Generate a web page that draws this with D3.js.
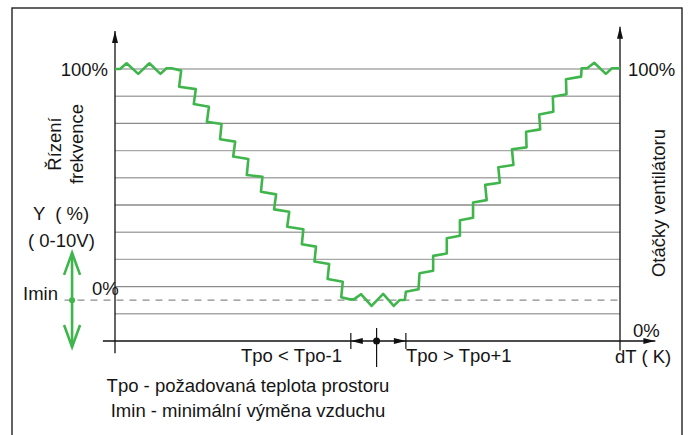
<!DOCTYPE html>
<html>
<head>
<meta charset="utf-8">
<script src="https://cdn.jsdelivr.net/npm/d3@7"></script>
<style>
  body { margin: 0; background: #fff; }
  text { font-family: "Liberation Sans", Arial, sans-serif; font-size: 18.5px; fill: #151515; }
</style>
</head>
<body>
<div id="chart"></div>
<script>
// grid levels in % of output
const gridLevels = [10, 20, 30, 40, 50, 60, 70, 80, 90, 100]
const iminLevel = 15
// fan curve, [dT position 0-100, output %]
const fanCurve = [
  [0, 100], [1.0, 100], [2.3, 102.1], [4.6, 98.2], [6.8, 102.1], [9.0, 98.2], [10.2, 100.3], [11.2, 100.3],
  [13.1, 99.4], [12.7, 93.5], [16.0, 92.6], [15.6, 87.1], [18.6, 86.1], [18.2, 80.6], [21.1, 79.8],
  [20.8, 74.2], [23.8, 73.3], [23.4, 67.8], [26.4, 66.9], [26.1, 61.0], [29.2, 60.4], [28.9, 54.9],
  [31.9, 53.9], [31.5, 48.4], [34.5, 47.5], [34.1, 42.0], [37.3, 41.1], [37.0, 35.6], [39.8, 34.7],
  [39.5, 29.2], [42.4, 28.3], [42.1, 22.8], [45.1, 21.8], [44.8, 16.1], [46.5, 15.3], [47.3, 15.3],
  [48.7, 17.2], [50.8, 12.9], [53.1, 17.3], [55.2, 12.9], [56.4, 15.1], [57.4, 15.1],
  [57.6, 18.1], [60.1, 19.0], [60.3, 24.9], [63.0, 25.8], [63.0, 31.3], [65.7, 32.2], [65.7, 37.8],
  [68.3, 38.7], [68.3, 44.4], [70.9, 45.3], [70.9, 50.9], [73.6, 51.8], [73.3, 57.4], [76.2, 58.2],
  [75.9, 63.9], [78.9, 64.7], [78.6, 70.5], [81.5, 71.2], [81.4, 76.9], [84.2, 77.8], [84.0, 83.3],
  [86.8, 84.3], [86.7, 89.8], [89.4, 90.7], [89.3, 96.2], [92.3, 97.2], [92.4, 100.3], [93.5, 100.3],
  [94.9, 102.3], [97.2, 98.2], [98.4, 100.3], [100, 100.3]
]
// setpoint band on the dT axis
const setpoint = 51.8
const band = [46.7, 57.6]

const leftTitle = ['Řízení', 'frekvence']
const rightTitle = 'Otáčky ventilátoru'
const yUnit = ['Y  ( %)', '( 0-10V)']
const bandLabels = ['Tpo < Tpo-1', 'Tpo > Tpo+1']
const notes = ['Tpo - požadovaná teplota prostoru', 'Imin - minimální výměna vzduchu']

const width = 689, height = 435
const green = '#3fb64b'

const svg = d3.select('#chart').append('svg')
  .attr('width', width)
  .attr('height', height)

const x = d3.scaleLinear().domain([0, 100]).range([115, 620])
const y = d3.scaleLinear().domain([0, 100]).range([341, 69])

const defs = svg.append('defs')
defs.append('marker')
  .attr('id', 'arr')
  .attr('viewBox', '0 0 12 6')
  .attr('refX', 12).attr('refY', 3)
  .attr('markerWidth', 12).attr('markerHeight', 6)
  .attr('markerUnits', 'userSpaceOnUse')
  .attr('orient', 'auto')
  .append('path').attr('d', 'M0,0 L12,3 L0,6 Z').attr('fill', '#111')

// frame
svg.append('rect')
  .attr('x', 12).attr('y', 8)
  .attr('width', 670).attr('height', 460)
  .attr('fill', 'none').attr('stroke', '#222').attr('stroke-width', 1.4)

// grid
svg.selectAll('.grid')
  .data(gridLevels)
  .enter().append('line')
  .attr('class', 'grid')
  .attr('x1', x(0)).attr('x2', x(100))
  .attr('y1', d => y(d)).attr('y2', d => y(d))
  .attr('stroke', (d, i) => i % 3 === 1 ? '#8a8a8a' : '#a8a8a8')
  .attr('stroke-width', 1.4)

// Imin dashed
svg.append('line')
  .attr('x1', x(-10)).attr('x2', x(99.5))
  .attr('y1', y(iminLevel)).attr('y2', y(iminLevel))
  .attr('stroke', '#8c8c8c').attr('stroke-width', 1.3)
  .attr('stroke-dasharray', '7,6')

// axes
svg.append('line')
  .attr('x1', x(0)).attr('x2', x(0))
  .attr('y1', y(-4.5)).attr('y2', y(114))
  .attr('stroke', '#111').attr('stroke-width', 1.3)
  .attr('marker-end', 'url(#arr)')
svg.append('line')
  .attr('x1', x(100)).attr('x2', x(100))
  .attr('y1', y(-3.5)).attr('y2', y(115.5))
  .attr('stroke', '#111').attr('stroke-width', 1.3)
  .attr('marker-end', 'url(#arr)')
svg.append('line')
  .attr('x1', x(-2.4)).attr('x2', x(107))
  .attr('y1', y(0)).attr('y2', y(0))
  .attr('stroke', '#111').attr('stroke-width', 1.3)
  .attr('marker-end', 'url(#arr)')

// setpoint marker
svg.append('line')
  .attr('x1', x(setpoint)).attr('x2', x(setpoint))
  .attr('y1', y(0) - 13).attr('y2', y(0) + 26)
  .attr('stroke', '#111').attr('stroke-width', 1.2)
svg.append('circle')
  .attr('cx', x(setpoint)).attr('cy', y(0)).attr('r', 3.5).attr('fill', '#111')
svg.selectAll('.bandtick')
  .data(band)
  .enter().append('line')
  .attr('x1', d => x(d)).attr('x2', d => x(d))
  .attr('y1', y(0) - 8).attr('y2', y(0) + 8)
  .attr('stroke', '#111').attr('stroke-width', 1.2)
svg.selectAll('.bandarrow')
  .data(band)
  .enter().append('path')
  .attr('d', d => {
    const tip = x(d), dir = d < setpoint ? 1 : -1
    return `M${tip},${y(0)} L${tip + dir * 12},${y(0) - 3} L${tip + dir * 12},${y(0) + 3} Z`
  })
  .attr('fill', '#111')

// curve
svg.append('path')
  .datum(fanCurve)
  .attr('d', d3.line().x(d => x(d[0])).y(d => y(d[1])))
  .attr('fill', 'none')
  .attr('stroke', green)
  .attr('stroke-width', 2.6)
  .attr('stroke-linejoin', 'round')

// green double arrow
const ax = x(-8.5), aTop = y(32.4), aBot = y(-2.2)
svg.append('line')
  .attr('x1', ax).attr('x2', ax).attr('y1', aTop).attr('y2', aBot)
  .attr('stroke', green).attr('stroke-width', 2.6)
svg.append('path')
  .attr('d', `M${ax - 8},${aTop + 22} L${ax},${aTop} L${ax + 8},${aTop + 22}`)
  .attr('fill', 'none').attr('stroke', green).attr('stroke-width', 2.6)
svg.append('path')
  .attr('d', `M${ax - 8},${aBot - 22} L${ax},${aBot} L${ax + 8},${aBot - 22}`)
  .attr('fill', 'none').attr('stroke', green).attr('stroke-width', 2.6)
svg.append('circle')
  .attr('cx', ax).attr('cy', y(iminLevel)).attr('r', 3).attr('fill', green)

// labels
svg.append('text').attr('x', x(0) - 7).attr('y', y(100) + 6.5)
  .style('text-anchor', 'end').text('100%')
svg.append('text').attr('x', x(100) + 8).attr('y', y(100) + 7)
  .text('100%')
svg.append('text').attr('x', 92).attr('y', 295).text('0%')
svg.append('text').attr('x', 633).attr('y', 337).text('0%')
svg.append('text').attr('x', 615).attr('y', 363).attr('xml:space', 'preserve').style('white-space', 'pre').text('dT ( K)')
svg.append('text').attr('x', 23).attr('y', y(iminLevel)).text('Imin')

svg.selectAll('.yunit')
  .data(yUnit)
  .enter().append('text')
  .attr('x', (d, i) => i === 0 ? 33 : 28)
  .attr('y', (d, i) => 220 + i * 27)
  .style('white-space', 'pre')
  .text(d => d)

svg.selectAll('.ltitle')
  .data(leftTitle)
  .enter().append('text')
  .attr('transform', (d, i) => `translate(${61 + i * 22}, 144) rotate(-90)`)
  .style('text-anchor', 'middle')
  .text(d => d)
svg.append('text')
  .attr('transform', 'translate(665, 203) rotate(-90)')
  .style('text-anchor', 'middle')
  .text(rightTitle)

svg.append('text').attr('x', 342).attr('y', 362).style('text-anchor', 'end').text(bandLabels[0])
svg.append('text').attr('x', 406).attr('y', 362).text(bandLabels[1])

svg.selectAll('.note')
  .data(notes)
  .enter().append('text')
  .attr('x', 248)
  .attr('y', (d, i) => 392 + i * 25)
  .style('text-anchor', 'middle')
  .text(d => d)
</script>
</body>
</html>
